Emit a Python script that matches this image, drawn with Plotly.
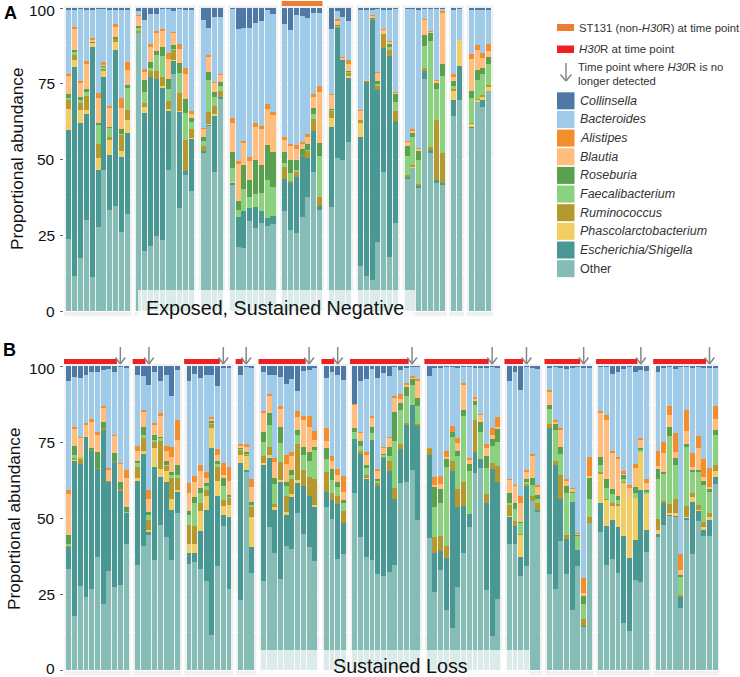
import plotly.graph_objects as go

W, H = 740, 677
FONT = "Liberation Sans, Arial, sans-serif"

SERIES = ["Other", "Escherichia/Shigella", "Phascolarctobacterium", "Ruminococcus", "Faecalibacterium",
          "Roseburia", "Blautia", "Alistipes", "Bacteroides", "Collinsella"]
COLORS = ["#86BCB6", "#499894", "#F1CE63", "#B6992D", "#8CD17D",
          "#59A14F", "#FFBE7D", "#F28E2B", "#A0CBE8", "#4E79A7"]
TICKS = [0, 25, 50, 75, 100]

# Each row is one sample; numbers are the stacked upper edges,
# in SERIES order up to Bacteroides (Collinsella fills the rest to 100).
A1 = [[23.7,59.8,66.6,69.9,70.4,71.6,77.6,78.3,99.8],
      [11.6,80.7,82.9,84.5,85.9,86.2,93.4,93.6,99.8],
      [17.5,62.2,66.4,68.8,70.1,70.5,75.4,76,99.9],
      [29.9,65,66.2,71,72.7,73.3,81.4,82.5,99.8],
      [11.4,87,88.6,88.9,88.9,89.1,89.7,90.1,99.8],
      [27.9,46.6,50.5,55.2,61.6,62.1,70.4,71.9,99.9],
      [46.4,77.1,79.2,80.3,80.7,81,81.6,82.2,99.9],
      [33.4,51.4,56.3,57.4,60.8,60.9,67.1,67.8,99.8],
      [34.8,86.2,88.7,90.1,90.2,90.4,94.1,94.6,99.8],
      [26,51,52.9,58.4,58.5,60,67.1,70.3,99.8],
      [31.9,58.7,63.1,66.2,73.6,74.7,79.6,82.2,99.8]]
A2 = [[92,92,92.2,92.5,93.8,94.2,97.5,97.7,99],
      [19.7,65.5,67.3,68.8,72.2,76.3,79.3,79.8,96],
      [21.5,77.1,77.1,79.2,80.1,82.3,87.5,88.1,98],
      [24.8,76.6,76.6,79.3,84.5,85.9,91.9,92.4,98],
      [23.3,74,74.4,77.1,84.3,87.3,92.3,93,99.9],
      [46.6,66.2,66.7,69.3,73.3,76.6,83.3,85,99.9],
      [78.1,82.9,83,86.5,86.6,87.8,92.1,92.2,99],
      [34,65.9,66,71.9,78.7,81.8,86.5,88.1,99.9],
      [45,46.2,46.2,56.5,65.3,69.9,78.2,80.1,99.8],
      [39.7,57,57.2,60,62.4,63.6,65,65.9,99.8]]
A3 = [[52.3,52.9,52.9,54.6,56.2,57.6,60.3,60.5,96],
      [61.2,61.6,61.7,65.8,76.3,79,84,84.4,93.3],
      [45.9,64.7,64.9,67.7,70.8,72.2,75.5,75.7,96.9],
      [70.1,70.8,70.8,72.7,74.3,75.6,78.1,78.2,97.1]]
A4 = [[41.6,42.5,42.7,42.7,47.3,52.6,62.2,63.8,99.9],
      [21.3,31,31,31,33.4,36.3,48.4,49.5,93],
      [20.9,33.1,33.1,33.1,40.3,48.2,55.9,56.2,93.3],
      [29.6,34,34,34,37.8,43.2,49.6,50.8,93.3],
      [27.3,34.3,34.3,34.3,38.5,49.9,60.9,62,95],
      [29,32.9,32.9,32.9,39.1,48.1,60,61.1,95.7],
      [28.2,30.7,30.7,30.7,43.3,54.9,66.6,68.2,99.3],
      [28.6,31.4,31.4,31.4,40.9,52.6,64.7,65.8,98]]
A5 = [[32.9,43.5,43.5,47.4,48.8,52.6,56.8,57.3,94.7],
      [26.8,42.4,42.7,42.9,45.4,49.9,54.8,55.2,92.7],
      [25.6,44.1,44.1,45.9,46.6,49.9,53.5,54.8,97.7],
      [31,51.3,51.4,51.5,51.5,53.5,55,55.8,97.4],
      [37.8,50.4,50.4,53.2,53.3,55.2,57.4,58.4,96.6],
      [46,59.5,59.5,63.5,65,67.1,70.8,71.6,98.5],
      [33.2,34.7,34.7,37.7,51.3,55.6,72.4,74.3,98.2]]
A6 = [[34.2,60.7,63.6,66.4,66.5,66.6,71.5,71.6,93.2],
      [50.5,93.8,93.8,94.1,94.3,94.4,96,96.3,99],
      [49.9,83.1,83.1,83.2,83.2,83.3,83.7,83.8,97.1],
      [55.7,77.1,77.6,78.7,79.1,79.2,81.5,82.9,95.8]]
A7 = [[14.9,57.4,62.2,63.1,63.1,63.1,66.2,66.3,99.7],
      [11.6,76,76,76.3,76.3,76.3,76.4,76.4,99.8],
      [10.1,96.5,96.5,96.6,96.6,96.7,97.6,97.7,99.8],
      [22.7,73,73,74.7,75,75.9,78.8,78.9,99.9],
      [46,86.9,86.9,91.4,91.4,91.4,93,93.1,99.7],
      [17.9,84.3,84.3,86.2,87,88,89,89.1,99.8],
      [29.2,62.7,62.7,66,69,72,72.2,72.3,99.9]]
A8 = [[43.8,44.1,44.1,44.9,51.3,54.5,56,56.1,99.9],
      [47.4,47.6,47.8,48.2,57.4,59.2,59.8,60,99.9],
      [41,41.2,41.2,41.9,49.7,53.2,53.7,53.8,99.8],
      [76.7,79.6,79.6,80.1,87.6,91.1,96.3,96.4,99.9],
      [52.1,53.5,53.5,54.1,89.2,91.6,92.4,92.5,99.9],
      [42.7,43.3,43.3,62.9,73.2,75.7,76.2,76.3,99.9],
      [41.9,42.1,42.1,52.1,77.6,81.4,98.8,98.9,99.9]]
A9 = [[64.5,69.5,72.7,73.7,74.3,75.8,77.1,78.2,99.6],
      [69.7,80.8,89.6,89.6,89.6,89.6,89.6,89.6,99.9]]
A10 = [[60.8,60.9,62,62.2,70.2,72.7,83.2,84.8,99.3],
       [69.2,69.3,69.9,70,76.3,79.5,86.2,87.8,99.3],
       [67.5,69.7,71,71.2,78.2,80.3,83.5,85,99.6],
       [72.6,72.6,74.3,74.5,81.5,83.7,85.9,88.1,99.8]]

B1 = [[33.3,40.9,40.9,41.2,41.4,44.5,57.8,59.1,95.2],
      [17.8,68.8,69.5,69.9,70.6,73.8,79.6,80,96.5],
      [27.7,67.7,67.7,69.7,70,70,76.6,76.7,96],
      [24,76.8,76.8,76.8,76.8,76.8,80.9,81.1,96.9],
      [26.7,72.4,72.4,72.6,72.6,73,81.6,82.7,98.2],
      [37.2,66.3,66.3,66.5,66.5,71.8,77.6,78.2,98.2],
      [21.7,79.4,79.4,79.5,79.5,81.6,86.6,86.7,98.8],
      [32.6,62.2,62.2,62.3,62.3,62.3,66.2,66.4,99.1],
      [27.4,68.6,68.6,68.8,68.8,71.4,77.3,77.4,98.2],
      [28,59.3,59.3,59.5,59.5,62,68,68.2,99.9],
      [41.5,51.8,51.8,51.8,52,53.6,63.1,65.9,99.3]]
B2 = [[34.6,62.6,63.1,66.7,68.1,68.8,72.1,73.8,96.9],
      [40.9,71.4,71.9,76.6,77.2,80.1,84.9,85.7,96.7],
      [44.8,45.3,46.2,49.4,51,52.1,56.3,59.3,93.9],
      [36.2,66.9,73.2,75.2,75.6,77.4,80.5,81.3,98.2],
      [47.8,63.4,66,75.5,76.5,76.8,83.6,84.7,95],
      [43.6,61.9,65.6,67.3,67.5,68.8,72.2,73.7,96.9],
      [36.3,52.7,56.3,63.3,64.5,65,70,73.4,90.3],
      [51.5,58.5,59.2,63.1,64.2,67.3,75.7,82.2,98.8]]
B3 = [[35,38.5,41.5,47.7,51,52.4,58.3,61.6,95.2],
      [35.5,38.4,41.4,47.3,55,56.9,61.8,63.7,97.4],
      [33.3,45.8,52.4,54.9,58.1,59.8,65.5,67.5,96],
      [29.3,52.6,57.4,59.3,60.9,61.5,63.3,65.2,96.9],
      [11.5,73,79.6,80.9,81.6,82,82.9,83.4,97.1],
      [34.2,57.1,62.3,67.2,67.8,68.6,70.8,72.7,93.3],
      [47.5,51,54.1,56,60.4,63.1,64.2,68,99.6],
      [26.6,50.5,54.3,56.8,57.2,57.6,62.2,66.9,99.6]]
B4 = [[23.2,68.2,70.7,72.8,73,73.2,73.9,74.3,97.1],
      [65.5,65.9,70.8,71.1,71.5,71.7,73.5,74.4,99.9],
      [32,40.6,50.3,54,54.2,55.4,60.2,62.8,99.8]]
B5 = [[29.3,67.7,68,70.3,74.9,78.4,84.4,85.3,98.2],
      [47.2,69.7,70.8,73.4,80.5,84.4,90.3,90.9,97.1],
      [38.5,52.5,53.6,54.7,61.1,63.1,68.4,69.8,97.1],
      [30.1,62,62.5,68.4,74.8,80.1,86.3,86.9,96.4],
      [40.9,51,52.1,57.4,60.4,62,67.9,70.7,94.1],
      [39.8,57.3,57.8,62.9,64.3,65.9,70.3,71.7,95.7],
      [51.5,61.6,62.6,74.3,77.4,78.8,83.1,85.1,91.7],
      [44.8,60.5,60.5,65.9,70.6,73.3,82.2,83.6,98.5],
      [40.6,57.3,57.3,63.4,68.6,71.7,79.8,83.5,98.8],
      [35.9,53.8,54.3,62.7,72.4,73.5,75.7,78.7,99.7]]
B6 = [[53.7,58.5,58.5,65.3,69.4,72.9,75.4,79.5,96],
      [49.7,55.8,55.8,58.2,62.4,66.1,68.8,70.5,98.2],
      [36.6,54.7,54.7,57.1,60.3,62,64.2,66.2,96.9],
      [38.2,48.5,48.5,52.4,54.9,56,58.7,63.9,95.5]]
B7 = [[58.1,76.1,76.1,76.1,78.2,79.5,87.5,87.6,87.6],
      [43.9,71,71,72.2,73.8,75.2,78.3,78.4,95],
      [37.2,63.1,63.3,64,66.9,67.5,71.1,71.6,95.8],
      [36.1,75.6,75.6,75.6,77.9,80,83.1,83.6,99.1],
      [31.6,60.7,60.7,61.6,62.3,63,65.9,66.2,96],
      [31,69.9,69.9,70.4,71,71.1,73.4,73.5,97.7],
      [32.3,65.5,65.5,68.6,70.5,73.5,76.6,76.8,96.6],
      [34.6,56.4,56.4,60,75.4,85,89.8,90,99.9],
      [61.5,72.7,72.7,74.4,85.6,88,89.2,90.8,98.8],
      [61.7,81,81,81.2,90.3,93,94.2,94.4,99.3],
      [65.9,87.3,87.3,87.3,93.6,96,96.5,96.7,99.9],
      [49.4,80.7,80.7,81,87,89.5,95.5,95.8,99.9]]
B8 = [[43.4,70.6,70.6,73,73,73,73,73.1,96.8],
      [25.8,38.4,38.4,43.8,53.7,60.4,60.9,63.4,99.6],
      [32.9,39.3,39.3,44,54.9,59.5,61.3,63.9,99.6],
      [19.8,36.8,36.8,40.8,66.9,69.8,70,72,99.9],
      [13.9,65.5,65.5,68.8,76.7,78.4,78.4,80.4,99.9],
      [27.4,53.6,53.6,59.7,70.3,72.1,74.6,76.3,99.6],
      [38.5,54,54,61.9,83.6,85.7,93.9,94.4,99.9],
      [47.1,51.4,51.4,51.4,65.6,67.8,69.5,69.6,99.9],
      [64.7,71.7,71.7,82.3,87.3,88.9,89.5,89.7,99.6],
      [66.4,69.5,69.5,69.5,78.2,81.6,84.2,84.3,99.6],
      [26.3,54.8,54.8,57.9,66.6,70.5,72.9,74.4,99.7],
      [11.1,66.2,66.2,68,73.8,76.1,77.4,79.5,99.9],
      [23.5,61.9,61.9,67,75,79.5,80.1,83.1,99.7]]
B9 = [[41.5,50.5,50.7,54.3,55.1,58.3,62.7,62.9,95.2],
      [41.5,47.5,47.5,49.1,53,55,60.7,61,98.2],
      [31,37.1,44.8,44.9,48.7,48.8,55,57.2,92],
      [34.2,60.7,60.7,61.6,61.7,63,65.5,65.9,99.9],
      [55.7,55.7,55.7,57.1,60.9,63.2,70.8,70.9,99.6],
      [52.4,52.5,52.5,54.9,56.3,57.6,60.4,60.8,98.9]]
B10 = [[31.7,79.7,79.7,80.8,85.9,87.3,91.9,92,99.6],
       [26.7,67.4,67.4,68.9,78.8,80.9,82,82.1,99.9],
       [42.3,56.2,56.2,64.2,71.1,73.3,79.4,79.5,99.8],
       [31.7,43.2,43.2,44.5,58.3,60.5,62.6,62.7,99.1],
       [19.9,55.2,55.2,55.2,58.4,58.5,59.8,59.9,99.8],
       [34.1,39.5,39.5,39.5,44.5,44.7,45,45.1,99.9],
       [14.3,14.4,14.4,16.7,21.7,24.4,25.2,30.3,99.6],
       [48.5,48.5,48.5,50.4,56.2,63.4,63.9,70.1,99.5]]
B11 = [[45.3,55.1,64.9,65,67.5,70,85,85.2,99.9],
       [34.6,47.3,56.2,56.4,60,62.9,82.4,83.8,99.9],
       [36.6,49.4,54.4,54.9,57.9,59.6,71.7,72,97.4],
       [32,46.9,54.3,54.5,55.8,57.2,69.3,70,97.9],
       [15.5,44,61.9,62,62.8,64.4,64.5,65.6,99.1],
       [13,37,57,57,57,57,60,60.9,99.9],
       [29.6,42.9,56.6,56.6,58.3,60.3,66.3,67.7,98.2],
       [29,59.1,71.9,71.9,72.4,73.1,75.9,76.3,98.8],
       [38.9,46,58.3,58.3,58.5,59.3,61.5,62.8,98.5]]
B12 = [[43.9,44.8,46.2,49.7,62.9,66.1,67.2,72.2,97.9],
       [47.8,55.1,55.4,55.6,64.4,65.1,71.4,75,99.8],
       [51,51.4,51.7,54.7,77,79.9,84,87,99.9],
       [50.2,51,51.6,56.3,67.5,69.8,71.6,78,99.1],
       [20.3,24.2,24.2,24.7,30.5,31.4,32.8,38.2,99.9],
       [49.2,50.4,50.5,54.1,73.3,74.4,78.7,85.7,99.9],
       [38.2,55.4,56.9,58.3,65.5,65.9,66.8,71.5,99.6],
       [49.1,52.5,52.7,54.2,65.1,65.8,73,77.1,99.9],
       [44.1,46.1,47,48.8,60.9,62.3,63.4,69.4,99.6],
       [44,49.7,50.3,51.6,58.7,59.5,60.2,66.5,99.8],
       [61.3,63.6,65.4,67.4,77.2,78.8,82.7,86.8,99.5]]

PANEL_A = [A1, A2, A3, A4, A5, A6, A7, A8, A9, A10]
PANEL_B = [B1, B2, B3, B4, B5, B6, B7, B8, B9, B10, B11, B12]

# number of leading samples per panel-B group that carry H30R (arrow on the following sample)
B_H30R_SAMPLES = [9, 2, 6, 1, 8, 2, 10, 11, 3, 6, 7, 9]
A_ST131_GROUP = 4  # group index with the orange marker


def px(x):
    return x / W


def py(y):
    return 1 - y / H


def slots(groups):
    out, s = [], 0
    for g in groups:
        out.append(list(range(s, s + len(g))))
        s += len(g) + 1
    return out


fig = go.Figure()
shapes, annotations = [], []


def add_panel(groups, xa, ya):
    sl = slots(groups)
    xs = [v for g in sl for v in g]
    rows = [r for g in groups for r in g]
    prev = [0.0] * len(rows)
    for i, name in enumerate(SERIES):
        tops = [r[i] if i < 9 else 100.0 for r in rows]
        vals = [round(t - p, 2) for t, p in zip(tops, prev)]
        fig.add_trace(go.Bar(x=xs, y=vals, name=name, xaxis=xa, yaxis=ya,
                             marker=dict(color=COLORS[i], line=dict(width=0)),
                             showlegend=False))
        prev = tops
    for g in sl:
        shapes.append(dict(type="rect", xref=xa, yref=ya, x0=g[0] - 0.78, x1=g[-1] + 0.78,
                           y0=-1.8, y1=100.8, fillcolor="#F0F0F0", line=dict(width=0), layer="below"))
    # tick labels as text on the y scale (the axis would drop the ones touching the page edge)
    for t in TICKS:
        shift = -2 if t == 100 else (2 if (t == 0 and ya == "y2") else 0)
        annotations.append(dict(xref="paper", yref=ya, x=px(57), y=t, text=str(t), showarrow=False,
                                xanchor="right", yanchor="middle", yshift=shift,
                                font=dict(family=FONT, size=15.5, color="#111111")))
    return sl


sl_a = add_panel(PANEL_A, "x", "y")
sl_b = add_panel(PANEL_B, "x2", "y2")

# top markers
g = sl_a[A_ST131_GROUP]
shapes.append(dict(type="rect", xref="x", yref="paper", x0=g[0] - 0.5, x1=g[-1] + 0.5,
                   y0=py(6), y1=py(1), fillcolor="#ED7D31", line=dict(width=0)))


def arrow(xref, x, y0, y1):
    # gray open-headed downward arrow; x given in data units on xref
    col = "#888888"
    shapes.append(dict(type="line", xref=xref, yref="paper", x0=x, x1=x, y0=py(y0), y1=py(y1),
                       line=dict(color=col, width=1.5)))
    d = 0.85 if xref != "paper" else 5.5 / W
    shapes.append(dict(type="line", xref=xref, yref="paper", x0=x - d, x1=x, y0=py(y1 - 6.5), y1=py(y1),
                       line=dict(color=col, width=1.5)))
    shapes.append(dict(type="line", xref=xref, yref="paper", x0=x + d, x1=x, y0=py(y1 - 6.5), y1=py(y1),
                       line=dict(color=col, width=1.5)))


for g, n in zip(sl_b, B_H30R_SAMPLES):
    shapes.append(dict(type="rect", xref="x2", yref="paper", x0=g[0] - 0.85, x1=g[n - 1] + 0.4,
                       y0=py(364), y1=py(359), fillcolor="#EE2024", line=dict(width=0)))
    arrow("x2", g[n], 347, 364)

# overlay boxes and their labels
shapes.append(dict(type="rect", xref="paper", yref="paper", x0=px(138), x1=px(415), y0=py(316.5), y1=py(290),
                   fillcolor="rgba(255,255,255,0.7)", line=dict(width=0)))
shapes.append(dict(type="rect", xref="paper", yref="paper", x0=px(258), x1=px(530), y0=py(675.5), y1=py(650),
                   fillcolor="rgba(255,255,255,0.7)", line=dict(width=0)))


def text(x, y, s, size, color="#000000", anchor="left", angle=0):
    annotations.append(dict(xref="paper", yref="paper", x=px(x), y=py(y), text=s, showarrow=False,
                            xanchor=anchor, yanchor="middle", textangle=angle,
                            font=dict(family=FONT, size=size, color=color), align="left"))


text(275, 308, "Exposed, Sustained Negative", 19.7, "#111111", "center")
text(400.5, 665.5, "Sustained Loss", 19.7, "#111111", "center")
text(2, 13, "<b>A</b>", 18)
text(1, 350, "<b>B</b>", 18)
text(17, 159, "Proportional abundance", 17.2, "#111111", "center", -90)
text(14, 519, "Proportional abundance", 17.2, "#111111", "center", -90)

# legend
LEG = "#333333"
shapes.append(dict(type="rect", xref="paper", yref="paper", x0=px(557), x1=px(574), y0=py(31), y1=py(24),
                   fillcolor="#ED7D31", line=dict(width=0)))
text(577, 28, "ST131 (non-<i>H30</i>R) at time point", 11.3, LEG)
shapes.append(dict(type="rect", xref="paper", yref="paper", x0=px(557), x1=px(574), y0=py(53), y1=py(45.5),
                   fillcolor="#EE2024", line=dict(width=0)))
text(577, 49, "<i>H30</i>R at time point", 11.5, LEG)
arrow("paper", px(566), 63, 81)
text(576, 67, "Time point where <i>H30</i>R is no", 11.3, LEG)
text(576, 81, "longer detected", 11.3, LEG)
for k, i in enumerate(range(9, -1, -1)):
    top = 92.3 + k * 18.65
    shapes.append(dict(type="rect", xref="paper", yref="paper", x0=px(557), x1=px(574.5),
                       y0=py(top + 17), y1=py(top), fillcolor=COLORS[i], line=dict(width=0)))
    label = SERIES[i] if SERIES[i] == "Other" else "<i>%s</i>" % SERIES[i]
    text(577.5, top + 8.5, label, 12.5, LEG)


def yaxis(dom, anchor):
    return dict(domain=dom, anchor=anchor, range=[-1.8, 100.8], tickvals=TICKS, ticks="outside", ticklen=3,
                tickcolor="#666666", tickwidth=1, showline=False, zeroline=False, showgrid=True,
                gridcolor="#FFFFFF", gridwidth=1, showticklabels=False,
                minor=dict(tickvals=[12.5, 37.5, 62.5, 87.5], showgrid=True, gridcolor="#FFFFFF",
                           gridwidth=0.5, ticks=""),
                layer="below traces", automargin=False)


def xaxis(dom, rng, anchor):
    return dict(domain=dom, anchor=anchor, range=rng, visible=False, fixedrange=True, automargin=False)


fig.update_layout(
    width=W, height=H, autosize=False,
    margin=dict(l=0, r=0, t=0, b=0, pad=0, autoexpand=False),
    paper_bgcolor="white", plot_bgcolor="rgba(0,0,0,0)",
    barmode="stack", bargap=0.14, showlegend=False,
    font=dict(family=FONT),
    xaxis=xaxis([px(64), px(494)], [-0.84, 72.9], "y"),
    yaxis=yaxis([py(316.5), py(5.6)], "x"),
    xaxis2=xaxis([px(64), px(719)], [-0.85, 113.66], "y2"),
    yaxis2=yaxis([py(675.5), py(363.6)], "x2"),
    shapes=shapes, annotations=annotations,
)

PAGE_FIX = ("document.body.style.margin='0';"
            "var d=document.getElementById('{plot_id}');"
            "d.style.position='fixed';d.style.left='0';d.style.top='0';")
fig.write_html("out.html", config=dict(displayModeBar=False), post_script=PAGE_FIX)
